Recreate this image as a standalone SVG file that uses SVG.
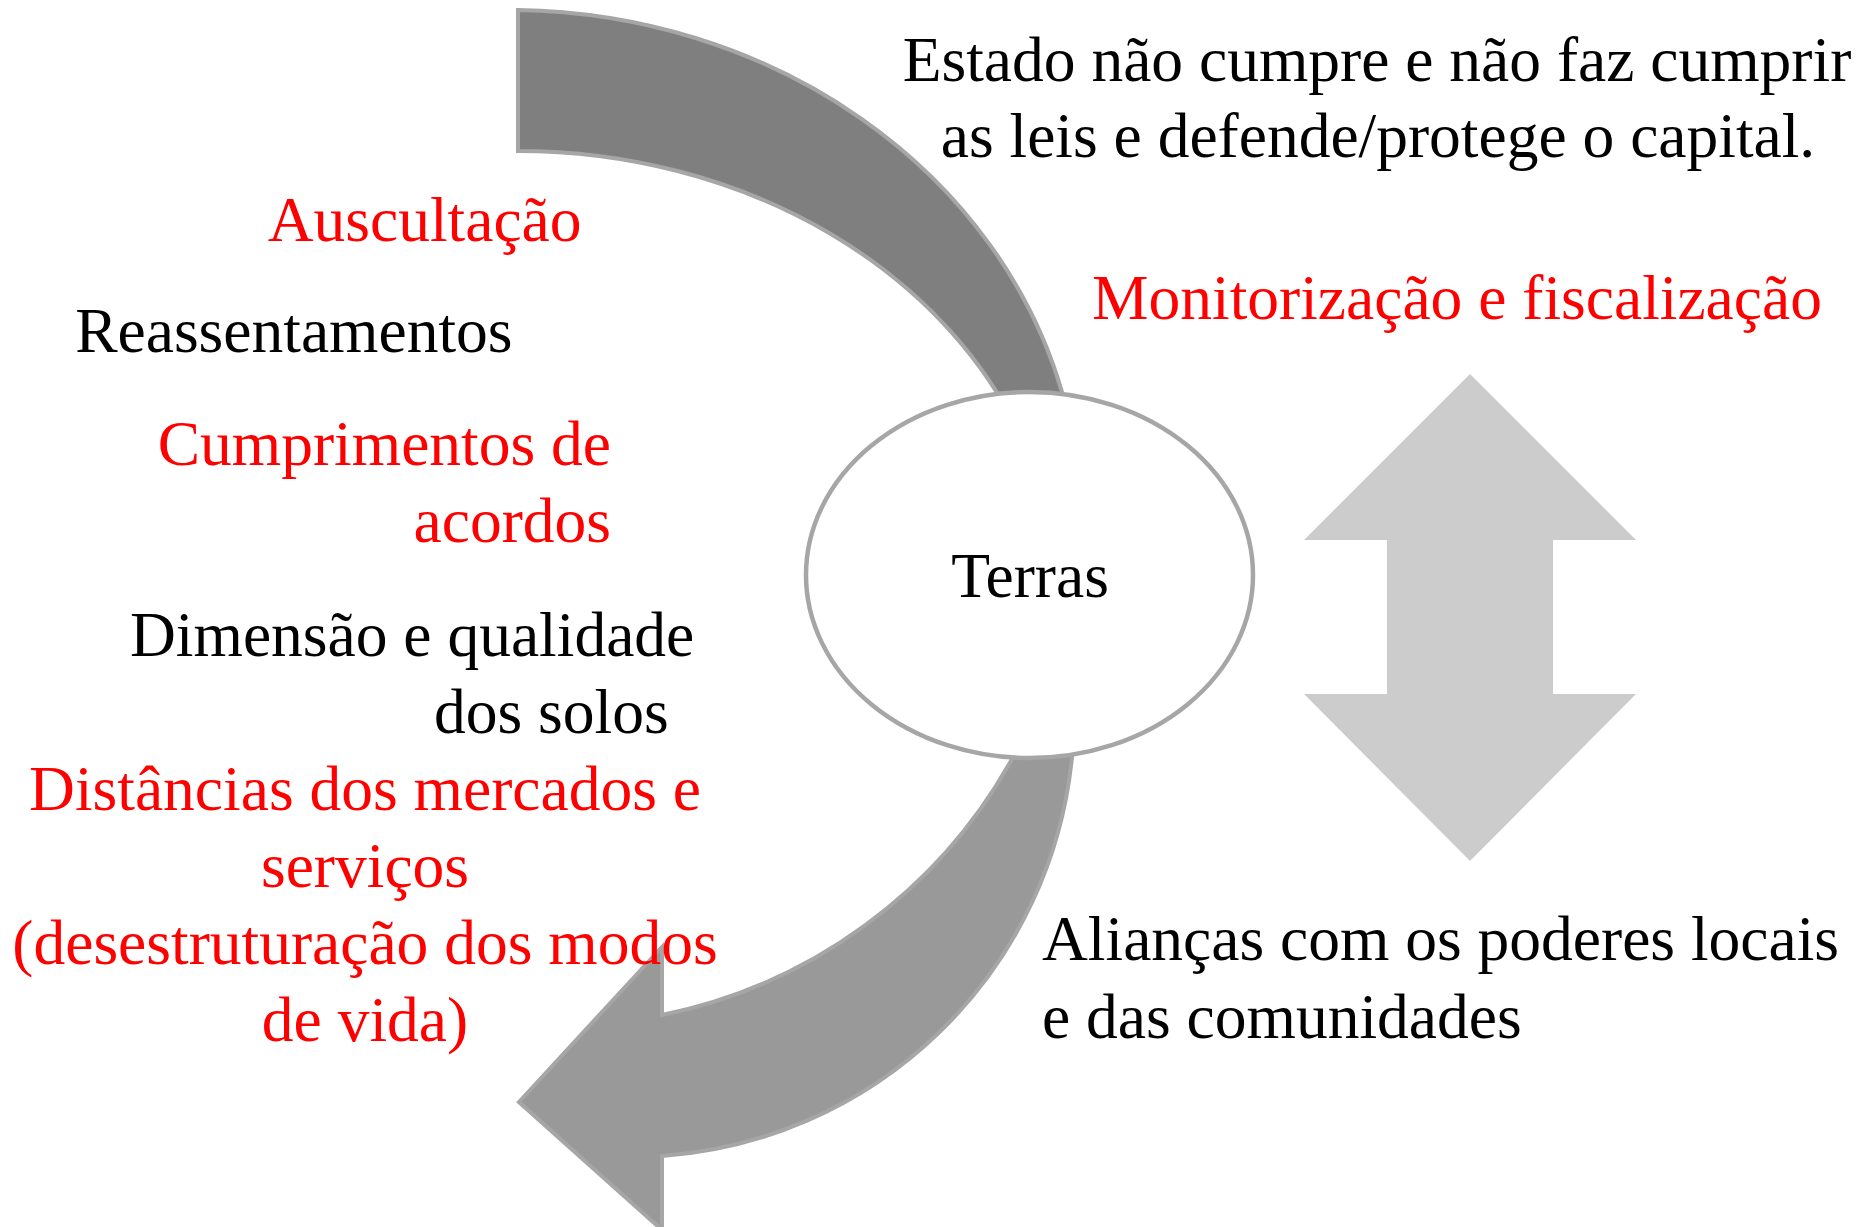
<svg xmlns="http://www.w3.org/2000/svg" width="1864" height="1227" viewBox="0 0 1864 1227">
  <defs>
    <linearGradient id="arrowGrad" gradientUnits="userSpaceOnUse" x1="0" y1="392" x2="0" y2="760">
      <stop offset="0" stop-color="#7f7f7f"/>
      <stop offset="1" stop-color="#999999"/>
    </linearGradient>
    <style>
      .t { font-family: "Liberation Serif", "Times New Roman", serif; font-size: 63.5px; }
      .red { fill: #ff0000; }
      .blk { fill: #000000; }
      .circ-arrow { fill: url(#arrowGrad); stroke: #a6a6a6; stroke-width: 4; stroke-linejoin: miter; }
      .dbl-arrow { fill: #cccccc; stroke: none; }
      .node-ellipse { fill: #ffffff; stroke: #a6a6a6; stroke-width: 4.5; }
    </style>
  </defs>
  <rect width="1864" height="1227" fill="#ffffff"/>

  <g id="connectors">
    <path id="circular-arrow" class="circ-arrow" d="M 518,10 A 572 510 0 0 1 1062,392 L 1068,450 L 1072,757 A 443 443 0 0 1 662,1156 L 662,1230 L 519,1102 L 662,947 L 662,1015 A 518 518 0 0 0 1012,759 L 1027,450 A 540 449 0 0 0 518,151 Z"/>
    <path id="double-arrow" class="dbl-arrow" d="M 1470,374 L 1636,540 L 1553,540 L 1553,694 L 1636,694 L 1470,861 L 1304,694 L 1387,694 L 1387,540 L 1304,540 Z"/>
  </g>

  <g id="node-terras">
    <ellipse class="node-ellipse" cx="1029.5" cy="575" rx="223.5" ry="183"/>
    <text class="t blk" x="1030" y="597" text-anchor="middle">Terras</text>
  </g>

  <g id="node-estado">
    <text class="t blk" x="1377" y="81" text-anchor="middle">Estado não cumpre e não faz cumprir</text>
    <text class="t blk" x="1378" y="157" text-anchor="middle">as leis e defende/protege o capital.</text>
  </g>

  <g id="node-monitorizacao">
    <text class="t red" x="1457" y="319" text-anchor="middle">Monitorização e fiscalização</text>
  </g>

  <g id="node-auscultacao">
    <text class="t red" x="581.5" y="241" text-anchor="end">Auscultação</text>
  </g>

  <g id="node-reassentamentos">
    <text class="t blk" x="512.5" y="352" text-anchor="end">Reassentamentos</text>
  </g>

  <g id="node-cumprimentos">
    <text class="t red" x="611" y="465" text-anchor="end">Cumprimentos de</text>
    <text class="t red" x="611" y="542" text-anchor="end">acordos</text>
  </g>

  <g id="node-dimensao">
    <text class="t blk" x="130" y="656">Dimensão e qualidade</text>
    <text class="t blk" x="434" y="733">dos solos</text>
  </g>

  <g id="node-distancias">
    <text class="t red" x="365" y="810" text-anchor="middle">Distâncias dos mercados e</text>
    <text class="t red" x="365" y="887" text-anchor="middle">serviços</text>
    <text class="t red" x="365" y="964" text-anchor="middle">(desestruturação dos modos</text>
    <text class="t red" x="365" y="1041" text-anchor="middle">de vida)</text>
  </g>

  <g id="node-aliancas">
    <text class="t blk" x="1042" y="960">Alianças com os poderes locais</text>
    <text class="t blk" x="1042" y="1038">e das comunidades</text>
  </g>
</svg>
